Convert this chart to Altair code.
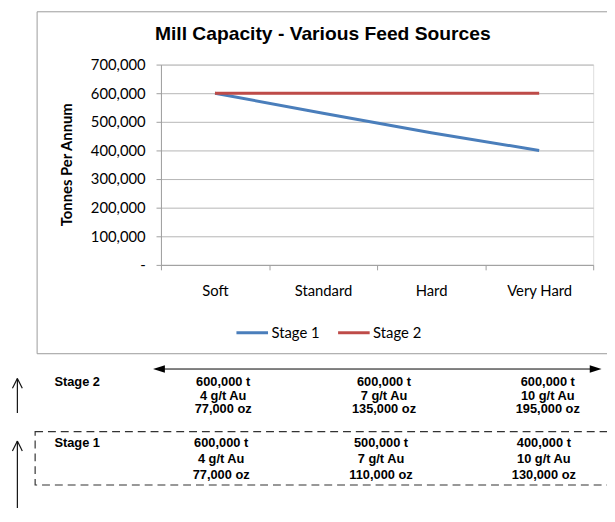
import altair as alt
import pandas as pd

# ---------------- data ----------------
categories = ["Soft", "Standard", "Hard", "Very Hard"]
stage1 = [600000, 530000, 462000, 400000]
stage2 = [600000, 600000, 600000, 600000]
series_names = ["Stage 1", "Stage 2"]
series_colors = ["#4a7ebb", "#be4b48"]
y_ticks = [0, 100000, 200000, 300000, 400000, 500000, 600000, 700000]

chart_title = "Mill Capacity - Various Feed Sources"
y_title = "Tonnes Per Annum"

table_rows = ["Stage 2", "Stage 1"]
stage2_tonnes = ["600,000 t", "600,000 t", "600,000 t"]
stage2_grade = ["4 g/t Au", "7 g/t Au", "10 g/t Au"]
stage2_ounces = ["77,000 oz", "135,000 oz", "195,000 oz"]
stage1_tonnes = ["600,000 t", "500,000 t", "400,000 t"]
stage1_grade = ["4 g/t Au", "7 g/t Au", "10 g/t Au"]
stage1_ounces = ["77,000 oz", "110,000 oz", "130,000 oz"]

# ---------------- layout (page pixels of the reference) ----------------
OX, OY = 163, 62          # plot-area origin on the page
W, H = 438, 203           # plot-area size


def px(x):
    return x - OX


def py(y):
    return y - OY


AXIS_FONT = "Lato"
TABLE_FONT = "Liberation Sans"

df = pd.DataFrame({
    "category": categories + categories,
    "series": [series_names[0]] * len(stage1) + [series_names[1]] * len(stage2),
    "value": stage1 + stage2,
})

lines = alt.Chart(df).mark_line(strokeWidth=3).encode(
    x=alt.X(
        "category:N",
        sort=categories,
        scale=alt.Scale(type="band", paddingInner=0, paddingOuter=0),
        axis=alt.Axis(
            title=None, labelAngle=0, tickBand="extent", grid=False,
            domainColor="#9e9e9e", tickColor="#9e9e9e", tickSize=5,
            labelFont=AXIS_FONT, labelFontSize=15, labelColor="#000000",
            labelPadding=14,
        ),
    ),
    y=alt.Y(
        "value:Q",
        scale=alt.Scale(domain=[0, 700000], nice=False, zero=True),
        axis=alt.Axis(
            title=None, values=y_ticks, grid=True, gridColor="#b5b5b5",
            domainColor="#9e9e9e", tickColor="#9e9e9e", tickSize=5,
            labelFont=AXIS_FONT, labelFontSize=15, labelColor="#000000",
            labelPadding=11,
            labelExpr="datum.value == 0 ? '-\u00a0\u00a0\u00a0\u00a0' : format(datum.value, ',')",
        ),
    ),
    color=alt.Color(
        "series:N",
        scale=alt.Scale(domain=series_names, range=series_colors),
        legend=alt.Legend(
            orient="none", legendX=px(238), legendY=py(316), direction="horizontal",
            title=None, symbolType="stroke", symbolSize=1024, symbolStrokeWidth=3,
            labelFont=AXIS_FONT, labelFontSize=15, labelColor="#000000",
            labelOffset=2, columnPadding=12, padding=0,
        ),
    ),
)

layers = []

# chart border
layers.append(
    alt.Chart(pd.DataFrame({"k": [0]})).mark_rect(
        fill=None, stroke="#9a9a9a", strokeWidth=1
    ).encode(
        x=alt.value(px(37.5)), x2=alt.value(px(640)),
        y=alt.value(py(8.5)), y2=alt.value(py(355)),
    )
)

layers.append(lines)

# title
layers.append(
    alt.Chart(pd.DataFrame({"t": [chart_title]})).mark_text(
        font=TABLE_FONT, fontWeight="bold", fontSize=19.5, align="center",
        baseline="alphabetic", color="#000000",
    ).encode(x=alt.value(px(327)), y=alt.value(py(37)), text="t:N")
)

# y axis title
layers.append(
    alt.Chart(pd.DataFrame({"t": [y_title]})).mark_text(
        font=AXIS_FONT, fontWeight="bold", fontSize=15, align="center",
        baseline="middle", angle=270, color="#000000",
    ).encode(x=alt.value(px(68)), y=alt.value(py(163.5)), text="t:N")
)

# ---------------- table below the chart ----------------
row_label_x = 55
row_specs = [
    # (label, [tonnes, grade, ounces], column centres, line y (middle))
    (table_rows[0], [stage2_tonnes, stage2_grade, stage2_ounces], [226, 389, 555], [383.5, 397.5, 411.5]),
    (table_rows[1], [stage1_tonnes, stage1_grade, stage1_ounces], [224, 386, 551], [445.5, 461.5, 477.5]),
]
for label, cols, xs, ys in row_specs:
    layers.append(
        alt.Chart(pd.DataFrame({"t": [label]})).mark_text(
            font=TABLE_FONT, fontWeight="bold", fontSize=13, align="left",
            baseline="middle", color="#000000",
        ).encode(x=alt.value(px(row_label_x)), y=alt.value(py(ys[0])), text="t:N")
    )
    for li, values in enumerate(cols):
        for ci, txt in enumerate(values):
            layers.append(
                alt.Chart(pd.DataFrame({"t": [txt]})).mark_text(
                    font=TABLE_FONT, fontWeight="bold", fontSize=13, align="center",
                    baseline="middle", color="#000000",
                ).encode(x=alt.value(px(xs[ci])), y=alt.value(py(ys[li])), text="t:N")
            )

one = pd.DataFrame({"k": [0]})

# horizontal double arrow
layers.append(
    alt.Chart(one).mark_rule(color="#000000", strokeWidth=1).encode(
        x=alt.value(px(160)), x2=alt.value(px(604)), y=alt.value(py(370.5))
    )
)
layers.append(
    alt.Chart(one).mark_point(
        shape="M-1,0L1,-0.65L1,0.65Z", filled=True, size=144, color="#000000", opacity=1
    ).encode(x=alt.value(px(161)), y=alt.value(py(370.5)))
)
layers.append(
    alt.Chart(one).mark_point(
        shape="M1,0L-1,-0.65L-1,0.65Z", filled=True, size=144, color="#000000", opacity=1
    ).encode(x=alt.value(px(603.5)), y=alt.value(py(370.5)))
)

# dashed box round Stage 1
layers.append(
    alt.Chart(one).mark_rect(
        fill=None, stroke="#333333", strokeWidth=1.2, strokeDash=[8, 5]
    ).encode(
        x=alt.value(px(35.5)), x2=alt.value(px(640)),
        y=alt.value(py(434)), y2=alt.value(py(488)),
    )
)

# up arrows on the left
for tip, bottom in [(380, 415), (443.5, 520)]:
    ax = 17.5
    layers.append(
        alt.Chart(one).mark_rule(color="#111111", strokeWidth=1.2).encode(
            x=alt.value(px(ax)), y=alt.value(py(tip)), y2=alt.value(py(bottom))
        )
    )
    for dx in (-5, 5):
        layers.append(
            alt.Chart(one).mark_rule(color="#111111", strokeWidth=1.2).encode(
                x=alt.value(px(ax)), x2=alt.value(px(ax + dx)),
                y=alt.value(py(tip)), y2=alt.value(py(tip + 10)),
            )
        )

chart = alt.layer(*layers).properties(
    width=W, height=H,
    padding={"left": OX - 8, "top": OY - 8, "right": 607 - (OX - 8) - W, "bottom": 500 - (OY - 8) - H},
    autosize=alt.AutoSizeParams(type="none"),
).configure_view(stroke=None).configure(background="#ffffff")

chart.save("out.html", embed_options={"renderer": "svg", "actions": False})
